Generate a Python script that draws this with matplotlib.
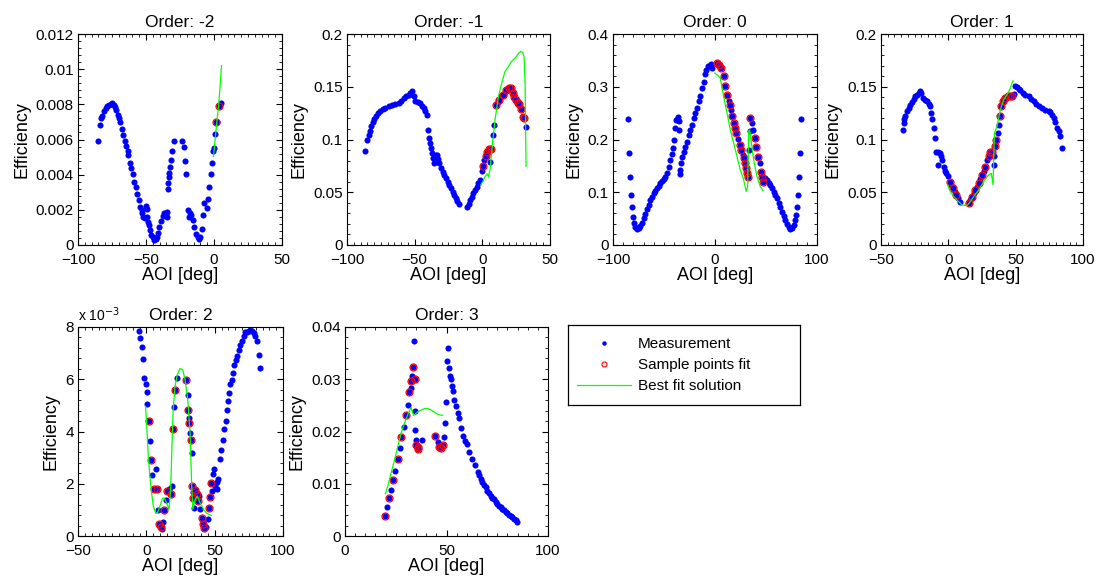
import matplotlib
matplotlib.use("Agg")
import matplotlib.pyplot as plt
from matplotlib.lines import Line2D
from matplotlib.ticker import FuncFormatter, AutoMinorLocator

plt.rcParams['font.family'] = ['Liberation Sans', 'DejaVu Sans']

# ---------------- data ----------------
# Order -2
m2_x = [-85.2, -84.0, -82.8, -82.0, -80.8, -79.6, -78.4, -77.1, -76.1, -74.9, -73.7, -72.9,
        -71.7, -70.5, -69.8, -68.8, -68.0, -66.8, -65.6, -64.8, -63.6, -63.1, -61.9, -61.1,
        -59.9, -58.9, -57.7, -56.5, -55.2, -54.5, -53.3, -52.8, -52.0, -50.8, -50.1, -49.6,
        -49.1, -48.4, -47.6, -47.1, -46.4, -45.2, -44.2, -43.0, -42.2, -41.5, -40.2, -39.0,
        -37.8, -36.6, -35.3, -34.8, -34.3, -34.1, -33.6, -33.1, -32.9, -32.4, -31.6, -31.1,
        -29.7, -23.3, -21.8, -21.1, -20.3, -19.3, -18.6, -17.6, -16.9, -15.7, -14.4, -13.2,
        -12.0, -10.7, -10.2, -9.0, -7.8, -7.3, -5.3, -4.1, -3.4, -2.4, -1.2, -0.4, 0.1, 0.8,
        1.3, 2.5, 4.0, 5.0]
m2_y = [0.00594, 0.00684, 0.00722, 0.00735, 0.0076, 0.00778, 0.00792, 0.00797, 0.00803, 0.00807,
        0.00797, 0.00784, 0.00769, 0.00741, 0.00722, 0.00697, 0.00659, 0.00627, 0.00589, 0.00564,
        0.00537, 0.00513, 0.00469, 0.00437, 0.00404, 0.00361, 0.00332, 0.0029, 0.00256, 0.00218,
        0.00199, 0.0018, 0.00161, 0.00152, 0.00222, 0.00203, 0.00161, 0.00133, 0.00114, 0.00085,
        0.00057, 0.00044, 0.00028, 0.00032, 0.00047, 0.0007, 0.00104, 0.00139, 0.00165, 0.0018,
        0.00184, 0.00161, 0.0019, 0.00317, 0.00355, 0.00389, 0.00408, 0.00446, 0.00484, 0.00535,
        0.00589, 0.00589, 0.00556, 0.0048, 0.00403, 0.00199, 0.00161, 0.0018, 0.00171, 0.00142,
        0.00101, 0.00063, 0.00044, 0.00032, 0.00047, 0.00089, 0.00171, 0.00237, 0.00209, 0.00262,
        0.00328, 0.00403, 0.00469, 0.00532, 0.00551, 0.0063, 0.00697, 0.00697, 0.00788, 0.00807]
s2_x = [1.3, 4.0]
s2_y = [0.00697, 0.00788]
b2_x = [-0.4, 0.8, 2.0, 3.3, 4.5, 5.5]
b2_y = [0.00503, 0.00598, 0.00693, 0.00788, 0.00902, 0.0102]

# Order -1
m1_x = [-86.5, -85.2, -84.0, -83.3, -82.3, -81.1, -79.8, -78.6, -77.1, -75.4, -73.4, -71.7,
        -69.3, -66.8, -64.3, -61.9, -60.2, -58.2, -56.2, -54.5, -53.3, -51.8, -50.8, -49.6,
        -47.9, -45.9, -44.7, -43.4, -42.2, -41.0, -40.2, -39.3, -38.5, -37.8, -37.3, -36.6,
        -35.6, -34.6, -33.6, -33.1, -31.9, -30.7, -29.4, -28.2, -27.0, -25.7, -24.5, -23.3,
        -22.0, -20.8, -19.6, -18.4, -17.1, -11.5, -10.2, -9.0, -7.8, -6.6, -5.3, -4.1, -2.9,
        -1.6, -0.4, 0.3, 1.3, 2.5, 3.8, 5.0, 5.7, 6.2, 7.7, 8.7, 9.9, 11.4, 12.6, 13.9, 15.1,
        16.3, 17.5, 18.8, 20.0, 21.0, 22.5, 23.7, 24.9, 26.1, 27.4, 28.6, 29.8, 31.1, 32.3]
m1_y = [0.0893, 0.0991, 0.1044, 0.1082, 0.1124, 0.1162, 0.1193, 0.1225, 0.1250, 0.1272, 0.1288,
        0.1298, 0.1313, 0.1326, 0.1336, 0.1345, 0.1367, 0.1389, 0.1408, 0.1424, 0.1440, 0.1456,
        0.1408, 0.1367, 0.1354, 0.1345, 0.1320, 0.1298, 0.1266, 0.1234, 0.1092, 0.1013, 0.0965,
        0.0918, 0.0870, 0.0823, 0.0775, 0.0855, 0.0855, 0.0813, 0.0775, 0.0728, 0.0696, 0.0665,
        0.0633, 0.0601, 0.0570, 0.0538, 0.0506, 0.0475, 0.0443, 0.0418, 0.0386, 0.0364, 0.0389,
        0.0427, 0.0459, 0.0491, 0.0522, 0.0554, 0.0586, 0.0617, 0.0706, 0.0753, 0.0807, 0.0839,
        0.0886, 0.0911, 0.0782, 0.0908, 0.1044, 0.1139, 0.1329, 0.1351, 0.1377, 0.1408, 0.1424,
        0.1434, 0.1465, 0.1487, 0.1487, 0.1487, 0.1440, 0.1399, 0.1377, 0.1345, 0.1336, 0.1288,
        0.1218, 0.1203, 0.1117]
s1_x = [0.3, 2.5, 3.8, 5.0, 6.2, 9.9, 12.6, 15.1, 17.5, 20.0, 21.0, 22.5, 23.7, 24.9, 26.1,
        27.4, 28.6, 29.8, 31.1]
s1_y = [0.0753, 0.0839, 0.0886, 0.0911, 0.0908, 0.1329, 0.1377, 0.1424, 0.1465, 0.1487, 0.1487,
        0.1440, 0.1399, 0.1377, 0.1345, 0.1336, 0.1288, 0.1218, 0.1203]
b1_x = [-1.1, 0.3, 2.0, 3.8, 4.5, 5.7, 7.5, 9.4, 11.9, 14.3, 16.8, 19.3, 21.7, 24.2, 26.6,
        28.4, 29.8, 30.8, 31.6, 32.0, 32.3]
b1_y = [0.0570, 0.0601, 0.0649, 0.0674, 0.0649, 0.0712, 0.0965, 0.1187, 0.1408, 0.1535, 0.1646,
        0.1693, 0.1741, 0.1772, 0.1814, 0.1836, 0.1826, 0.1788, 0.1535, 0.1060, 0.0744]

# Order 0
m0_x = [-85.6, -84.6, -83.7, -82.7, -81.7, -80.7, -79.7, -78.1, -76.5, -74.8, -73.2, -71.6,
        -69.9, -68.3, -66.7, -65.0, -63.4, -61.8, -60.1, -58.5, -56.9, -55.2, -53.6, -52.0,
        -50.3, -48.7, -47.1, -45.4, -43.8, -42.2, -41.2, -39.9, -38.9, -37.9, -36.6, -35.6,
        -35.2, -34.6, -34.0, -33.3, -32.4, -30.7, -29.1, -27.5, -25.8, -24.2, -22.5, -20.9,
        -19.3, -17.6, -16.0, -14.4, -12.7, -11.1, -9.5, -8.5, -7.2, -5.6, -3.9, -2.9,
        2.0, 4.2, 6.2, 8.5, 10.1, 11.8, 13.4, 14.4, 16.0, 16.7, 18.3, 19.3, 20.9, 22.5, 24.2,
        25.8, 27.5, 28.1, 29.7, 30.7, 31.4, 32.0, 33.0, 34.0, 34.6, 36.3, 37.3, 38.9, 40.5,
        42.2, 43.8, 45.1, 46.1, 47.1, 49.3, 51.0, 52.6, 54.2, 55.9, 57.5, 59.2, 60.8, 62.4,
        64.1, 65.7, 67.3, 69.0, 70.6, 72.2, 73.9, 75.5, 77.1, 78.1, 79.1, 80.4, 81.0, 82.0,
        83.0, 84.3]
m0_y = [0.2386, 0.1741, 0.1297, 0.0949, 0.0715, 0.0538, 0.0411, 0.0335, 0.0297, 0.0316, 0.0361,
        0.0424, 0.0506, 0.0589, 0.0677, 0.0759, 0.0854, 0.0918, 0.0981, 0.1032, 0.1076, 0.1120,
        0.1171, 0.1215, 0.1253, 0.1297, 0.1361, 0.1487, 0.1614, 0.1722, 0.1835, 0.1994, 0.2215,
        0.2373, 0.2424, 0.2342, 0.2184, 0.1342, 0.1424, 0.1551, 0.1677, 0.1772, 0.1867, 0.1962,
        0.2089, 0.2184, 0.2278, 0.2405, 0.2500, 0.2595, 0.2722, 0.2816, 0.2975, 0.3082, 0.3240,
        0.3323, 0.3399, 0.3386, 0.3430, 0.3354,
        0.3449, 0.3418, 0.3354, 0.3196, 0.3019, 0.2848, 0.2722, 0.2658, 0.2563, 0.2449, 0.2310,
        0.2215, 0.2120, 0.2006, 0.1899, 0.1804, 0.1709, 0.1646, 0.1551, 0.1456, 0.1361, 0.1297,
        0.1804, 0.2152, 0.2405, 0.2310, 0.2184, 0.2025, 0.1867, 0.1677, 0.1551, 0.1392, 0.1297,
        0.1203, 0.1266, 0.1234, 0.1184, 0.1139, 0.1076, 0.1013, 0.0949, 0.0886, 0.0791, 0.0715,
        0.0633, 0.0551, 0.0475, 0.0399, 0.0335, 0.0297, 0.0316, 0.0380, 0.0475, 0.0570, 0.0728,
        0.0949, 0.1297, 0.1741, 0.2386]
s0_x = [2.0, 4.2, 6.2, 8.5, 10.1, 11.8, 14.4, 16.7, 18.3, 19.3, 20.9, 24.2, 25.8, 28.1, 29.7,
        30.7, 31.4, 32.0, 34.6, 38.9, 40.5, 42.2, 45.1, 46.1, 47.1]
s0_y = [0.3449, 0.3418, 0.3354, 0.3196, 0.3019, 0.2848, 0.2658, 0.2449, 0.2310, 0.2215, 0.2120,
        0.1899, 0.1804, 0.1646, 0.1551, 0.1456, 0.1361, 0.1297, 0.2405, 0.2025, 0.1867, 0.1677,
        0.1392, 0.1297, 0.1203]
b0_x = [-0.3, 2.0, 5.2, 8.5, 11.8, 15.0, 18.3, 21.6, 24.8, 28.1, 30.7, 32.0, 33.0, 34.0, 35.3,
        37.9, 41.2, 44.4, 47.1]
b0_y = [0.3259, 0.3228, 0.3165, 0.2816, 0.2500, 0.2184, 0.1930, 0.1677, 0.1424, 0.1234, 0.1013,
        0.1108, 0.2152, 0.2184, 0.1994, 0.1614, 0.1297, 0.1108, 0.1032]

# Order 1
p1_x = [-33.7, -33.2, -32.7, -31.9, -30.7, -29.5, -28.2, -27.0, -25.7, -24.5, -23.3, -22.0,
        -20.8, -20.1, -18.8, -17.1, -15.8, -14.6, -13.9, -12.9, -12.1, -10.9, -9.7, -8.9,
        -7.7, -6.4, -7.7, -5.2, -4.7, -3.5, -2.2, -1.5, -0.3, 1.0, 2.2, 3.5, 4.7, 5.9, 7.2,
        8.4, 15.1, 16.3, 17.6, 18.8, 20.0, 21.3, 22.5, 23.8, 25.0, 26.2, 27.5, 28.7, 29.9,
        31.2, 32.4, 33.7, 33.7, 34.9, 35.6, 36.6, 37.4, 38.1, 39.1, 40.6, 42.3, 44.1, 45.5,
        47.3, 48.5, 49.7, 51.0, 52.2, 53.5, 55.4, 57.2, 59.6, 61.4, 63.4, 65.3, 67.1, 69.5,
        72.0, 74.5, 75.7, 77.0, 78.2, 79.4, 80.7, 81.9, 82.7, 84.4]
p1_y = [0.1086, 0.1155, 0.1193, 0.1225, 0.1266, 0.1298, 0.1329, 0.1351, 0.1383, 0.1408, 0.1424,
        0.1440, 0.1456, 0.1440, 0.1393, 0.1377, 0.1361, 0.1339, 0.1313, 0.1250, 0.1193, 0.1108,
        0.1013, 0.0886, 0.0886, 0.0870, 0.0760, 0.0839, 0.0807, 0.0744, 0.0706, 0.0680, 0.0655,
        0.0601, 0.0570, 0.0538, 0.0506, 0.0475, 0.0443, 0.0411, 0.0396, 0.0427, 0.0459, 0.0491,
        0.0522, 0.0554, 0.0592, 0.0624, 0.0665, 0.0706, 0.0744, 0.0807, 0.0839, 0.0877, 0.0886,
        0.0839, 0.0760, 0.0934, 0.0997, 0.1060, 0.1139, 0.1225, 0.1313, 0.1361, 0.1393, 0.1408,
        0.1408, 0.1408, 0.1434, 0.1503, 0.1497, 0.1478, 0.1465, 0.1440, 0.1424, 0.1408, 0.1383,
        0.1361, 0.1339, 0.1320, 0.1298, 0.1282, 0.1266, 0.1257, 0.1234, 0.1203, 0.1162, 0.1108,
        0.1076, 0.1029, 0.0924]
q1_x = [1.0, 3.5, 5.9, 15.1, 17.6, 20.0, 22.5, 25.0, 27.5, 29.9, 31.2, 32.4, 34.9, 35.6, 38.1,
        39.1, 40.6, 42.3, 44.1, 45.5, 47.3]
q1_y = [0.0601, 0.0538, 0.0475, 0.0396, 0.0459, 0.0522, 0.0592, 0.0665, 0.0744, 0.0839, 0.0877,
        0.0886, 0.0934, 0.0997, 0.1225, 0.1313, 0.1361, 0.1393, 0.1408, 0.1408, 0.1408]
r1_x = [-0.5, 1.5, 4.0, 7.7, 10.1, 13.9, 16.3, 18.8, 22.5, 26.2, 29.9, 31.9, 33.2, 34.2, 36.1,
        38.6, 41.1, 43.6, 46.0, 48.0]
r1_y = [0.0570, 0.0506, 0.0459, 0.0411, 0.0380, 0.0373, 0.0411, 0.0459, 0.0522, 0.0601, 0.0665,
        0.0680, 0.0570, 0.1060, 0.1124, 0.1282, 0.1377, 0.1424, 0.1488, 0.1557]

# Order 2
p2_x = [-5.2, -4.7, -3.5, -2.3, -1.8, -0.6, 0.2, 0.7, 1.9, 2.6, 3.3, 4.3, 5.5, 6.8, 7.5, 8.2,
        9.5, 10.4, 11.2, 12.4, 13.1, 14.4, 15.3, 16.6, 17.8, 18.5, 19.3, 20.2, 21.0, 22.7, 29.0,
        30.3, 30.8, 31.5, 31.5, 32.0, 32.5, 33.2, 33.7, 34.4, 34.0, 34.9, 35.7, 36.9, 38.1,
        38.6, 39.3, 40.5, 41.8, 42.5, 43.7, 45.4, 46.2, 46.7, 47.1, 48.4, 49.1, 49.6, 50.3,
        51.5, 52.0, 52.8, 54.0, 54.7, 55.9, 56.9, 58.2, 58.9, 59.6, 60.6, 61.3, 62.6, 63.3,
        64.5, 65.5, 66.2, 67.5, 68.7, 69.9, 71.1, 72.3, 73.5, 74.8, 76.0, 77.3, 78.5, 79.7,
        80.9, 82.1, 83.4]
p2_y = [0.00783, 0.00758, 0.00724, 0.00678, 0.00605, 0.00582, 0.00550, 0.00506, 0.00439, 0.00363,
        0.00290, 0.00233, 0.00178, 0.00255, 0.00181, 0.00098, 0.00047, 0.00034, 0.00028, 0.00053,
        0.00098, 0.00136, 0.00172, 0.00181, 0.00159, 0.00191, 0.00410, 0.00493, 0.00558, 0.00605,
        0.00596, 0.00538, 0.00484, 0.00452, 0.00433, 0.00395, 0.00369, 0.00318, 0.00191, 0.00168,
        0.00146, 0.00108, 0.00176, 0.00159, 0.00134, 0.00153, 0.00102, 0.00070, 0.00045, 0.00032,
        0.00036, 0.00064, 0.00108, 0.00150, 0.00204, 0.00172, 0.00236, 0.00255, 0.00191, 0.00178,
        0.00206, 0.00217, 0.00293, 0.00331, 0.00369, 0.00408, 0.00439, 0.00484, 0.00516, 0.00548,
        0.00580, 0.00599, 0.00624, 0.00656, 0.00675, 0.00688, 0.00713, 0.00732, 0.00745, 0.00764,
        0.00780, 0.00780, 0.00783, 0.00787, 0.00783, 0.00777, 0.00764, 0.00745, 0.00694, 0.00643]
q2_x = [1.9, 3.3, 5.5, 7.5, 9.5, 10.4, 13.1, 15.3, 17.8, 19.3, 21.0, 29.0, 30.8, 31.5, 32.5,
        33.7, 34.0, 35.7, 36.9, 38.1, 40.5, 41.8, 42.5, 46.2, 46.7, 47.1]
q2_y = [0.00439, 0.00290, 0.00178, 0.00181, 0.00047, 0.00034, 0.00098, 0.00172, 0.00159, 0.00410,
        0.00558, 0.00596, 0.00484, 0.00433, 0.00369, 0.00191, 0.00146, 0.00176, 0.00159, 0.00134,
        0.00070, 0.00045, 0.00032, 0.00108, 0.00150, 0.00204]
r2_x = [-0.6, 0.2, 1.4, 2.6, 3.8, 5.1, 6.8, 8.2, 10.0, 11.7, 13.1, 14.8, 16.6, 17.8, 18.8, 19.7,
        21.0, 22.7, 24.6, 26.6, 28.3, 30.3, 32.0, 33.2, 34.0, 35.7, 37.4, 39.3, 41.8, 44.2, 47.4]
r2_y = [0.00497, 0.00433, 0.00306, 0.00229, 0.00166, 0.00115, 0.00087, 0.00089, 0.00115, 0.00143,
        0.00146, 0.00127, 0.00102, 0.00178, 0.00357, 0.00490, 0.00573, 0.00618, 0.00641, 0.00637,
        0.00599, 0.00522, 0.00395, 0.00191, 0.00102, 0.00140, 0.00153, 0.00127, 0.00102, 0.00087,
        0.00079]

# Order 3
p3_x = [19.9, 20.9, 21.7, 22.8, 23.7, 24.8, 25.9, 26.9, 27.7, 28.9, 29.9, 31.0, 31.5, 32.3, 32.6,
        33.0, 33.4, 33.8, 34.3, 34.6, 34.7, 35.1, 35.1, 35.9, 36.2, 38.0, 44.5, 45.7, 46.5, 47.3,
        48.1, 48.9, 49.4, 49.8, 50.1, 50.6, 51.1, 51.7, 52.2, 52.7, 53.0, 53.8, 54.6, 55.5, 56.3,
        57.1, 57.9, 59.2, 59.9, 61.2, 62.5, 64.1, 65.3, 66.1, 66.9, 67.7, 68.5, 69.3, 70.1, 71.0,
        71.8, 72.6, 73.4, 74.2, 75.0, 75.9, 76.7, 77.5, 78.3, 79.1, 79.9, 80.8, 81.6, 82.4, 83.2,
        84.0, 84.8]
p3_y = [0.00375, 0.00552, 0.00724, 0.00889, 0.0108, 0.0125, 0.0147, 0.0168, 0.0190, 0.0209,
        0.0231, 0.0251, 0.0276, 0.0283, 0.0297, 0.0307, 0.0324, 0.0373, 0.0300, 0.0239, 0.0203,
        0.0184, 0.0174, 0.0171, 0.0166, 0.0184, 0.0192, 0.0180, 0.0171, 0.0168, 0.0174, 0.0190,
        0.0216, 0.0256, 0.0335, 0.0359, 0.0322, 0.0307, 0.0300, 0.0287, 0.0277, 0.0260, 0.0249,
        0.0235, 0.0225, 0.0206, 0.0192, 0.0182, 0.0176, 0.0160, 0.0147, 0.0136, 0.0123, 0.0117,
        0.0109, 0.0103, 0.0098, 0.0093, 0.0087, 0.0083, 0.0077, 0.0072, 0.0070, 0.0065, 0.0062,
        0.0058, 0.0055, 0.0052, 0.0049, 0.0046, 0.0044, 0.0041, 0.0038, 0.0036, 0.0033, 0.0030,
        0.0027]
q3_x = [19.9, 21.7, 23.7, 25.9, 27.7, 29.9, 31.5, 32.6, 33.4, 34.3, 35.1, 35.9, 36.2, 44.5, 46.5,
        47.3, 48.1]
q3_y = [0.00375, 0.00724, 0.0108, 0.0147, 0.0190, 0.0231, 0.0276, 0.0297, 0.0324, 0.0300, 0.0174,
        0.0171, 0.0166, 0.0192, 0.0171, 0.0168, 0.0174]
r3_x = [19.9, 21.2, 22.8, 24.5, 26.1, 27.7, 29.4, 31.0, 32.6, 33.8, 35.9, 37.5, 39.2, 40.8, 42.4,
        44.0, 46.0, 48.1]
r3_y = [0.0081, 0.0097, 0.0122, 0.0147, 0.0173, 0.0198, 0.0217, 0.0233, 0.0246, 0.0231, 0.0238,
        0.0241, 0.0244, 0.0244, 0.0241, 0.0237, 0.0232, 0.0231]

panels = [
    ("Order: -2", m2_x, m2_y, s2_x, s2_y, b2_x, b2_y, (-100, 50), [-100, -50, 0, 50],
     (0, 0.012), [0, 0.002, 0.004, 0.006, 0.008, 0.01, 0.012]),
    ("Order: -1", m1_x, m1_y, s1_x, s1_y, b1_x, b1_y, (-100, 50), [-100, -50, 0, 50],
     (0, 0.2), [0, 0.05, 0.1, 0.15, 0.2]),
    ("Order: 0", m0_x, m0_y, s0_x, s0_y, b0_x, b0_y, (-100, 100), [-100, 0, 100],
     (0, 0.4), [0, 0.1, 0.2, 0.3, 0.4]),
    ("Order: 1", p1_x, p1_y, q1_x, q1_y, r1_x, r1_y, (-50, 100), [-50, 0, 50, 100],
     (0, 0.2), [0, 0.05, 0.1, 0.15, 0.2]),
    ("Order: 2", p2_x, p2_y, q2_x, q2_y, r2_x, r2_y, (-50, 100), [-50, 0, 50, 100],
     (0, 0.008), [0, 0.002, 0.004, 0.006, 0.008]),
    ("Order: 3", p3_x, p3_y, q3_x, q3_y, r3_x, r3_y, (0, 100), [0, 50, 100],
     (0, 0.04), [0, 0.01, 0.02, 0.03, 0.04]),
]

W, H = 1097, 583
# axes boxes in pixels: left, top, right, bottom
boxes = [(78, 34, 282, 245), (347, 34, 550, 245), (613, 34, 817, 245), (881, 34, 1083, 245),
         (78, 327, 283, 536), (345, 327, 548, 536)]

fig = plt.figure(figsize=(W / 100, H / 100), dpi=100)

for (title, mx, my, sx, sy, bx, by, xl, xt, yl, yt), (l, t, r, b) in zip(panels, boxes):
    ax = fig.add_axes([l / W, 1 - b / H, (r - l) / W, (b - t) / H])
    ax.plot(mx, my, 'o', color='#0000ff', ms=4.4, mew=0, zorder=2)
    ax.plot(sx, sy, 'o', mfc='none', mec='red', ms=5.0, mew=0.9, zorder=3)
    ax.plot(bx, by, '-', color='#00ff00', lw=0.9, zorder=4)
    ax.set_xlim(xl)
    ax.set_ylim(yl)
    ax.set_xticks(xt)
    ax.set_yticks(yt)
    if title == "Order: 2":
        ax.yaxis.set_major_formatter(FuncFormatter(lambda v, p: '%g' % round(v * 1000, 6)))
        ax.text(0, 1.015, r'x 10$^{-3}$', transform=ax.transAxes, fontsize=10,
                ha='left', va='bottom')
    else:
        ax.yaxis.set_major_formatter(FuncFormatter(lambda v, p: '%g' % round(v, 6)))
    ax.xaxis.set_minor_locator(AutoMinorLocator(10))
    ax.yaxis.set_minor_locator(AutoMinorLocator(5))
    ax.tick_params(which='both', direction='in', top=True, right=True, labelsize=11)
    ax.tick_params(axis='x', which='major', pad=6)
    ax.tick_params(axis='y', which='major', pad=3)
    ax.tick_params(which='major', length=4, width=0.8)
    ax.tick_params(which='minor', length=2, width=0.6)
    for s in ax.spines.values():
        s.set_linewidth(0.8)
    ax.set_title(title, fontsize=12.5, pad=5)
    ax.set_xlabel('AOI [deg]', fontsize=13, labelpad=0)
    ax.set_ylabel('Efficiency', fontsize=13, labelpad=4)

# legend box
lax = fig.add_axes([568 / W, 1 - 405 / H, (800 - 568) / W, (405 - 325) / H])
lax.set_xticks([])
lax.set_yticks([])
for s in lax.spines.values():
    s.set_linewidth(0.9)
handles = [
    Line2D([], [], ls='none', marker='o', color='#0000ff', ms=3.2, mew=0),
    Line2D([], [], ls='none', marker='o', mfc='none', mec='red', ms=3.6, mew=0.8),
    Line2D([], [], color='#00ff00', lw=0.9),
]
lax.legend(handles, ['Measurement', 'Sample points fit', 'Best fit solution'],
           loc='center left', bbox_to_anchor=(0, 0.5), frameon=False, fontsize=11,
           borderaxespad=0, borderpad=0.6, handlelength=3.5, handletextpad=0.45,
           labelspacing=0.45)

fig.savefig('out.png', dpi=100)
